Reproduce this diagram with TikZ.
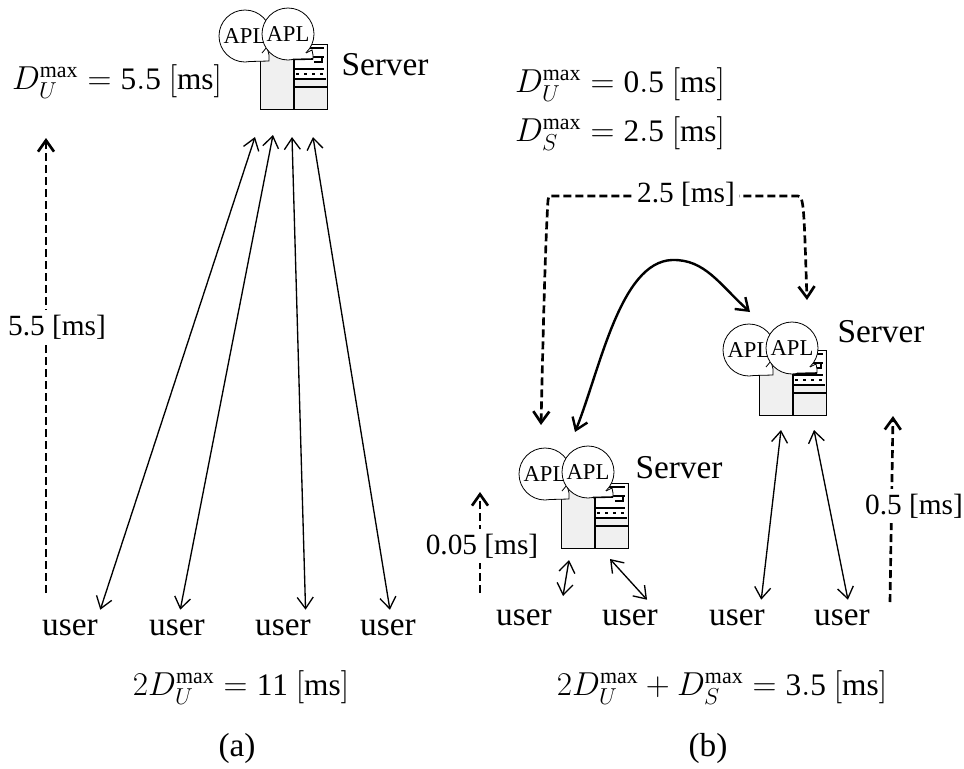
\documentclass[tikz,border=0pt]{standalone}
\usepackage{amsmath,amssymb}
\usepackage{fontspec}
\setmainfont{Liberation Serif}
\usetikzlibrary{arrows.meta,positioning,calc}
\definecolor{boxgray}{HTML}{F0F0F0}
\tikzset{
  >={Straight Barb[length=8.5pt,width=12pt]},
  apl/.style={circle, draw, fill=white, line width=0.6pt, minimum size=39pt, inner sep=0pt, font=\fontsize{17}{17}\selectfont},
  user/.style={minimum width=45pt, minimum height=27pt, inner sep=0pt, font=\fontsize{25}{25}\selectfont},
  big/.style={font=\fontsize{25}{25}\selectfont, inner sep=0pt},
  delay/.style={fill=white, inner xsep=3pt, inner ysep=4pt, font=\fontsize{22}{22}\selectfont},
  formula/.style={font=\fontsize{23.5}{25}\selectfont, inner sep=0pt},
  link/.style={<->, line width=1pt},
  dashlink/.style={->, line width=2pt, dash pattern=on 6pt off 3pt},
  pics/serverbox/.style={code={
    \node[draw, fill=boxgray, line width=1pt, minimum width=50pt, minimum height=48.5pt, inner sep=0pt, anchor=north west] (-box) at (0,0) {};
    \fill[white] (34,1) rectangle (66,35);
    \draw[line width=1pt] (34,0) -- (34,65) (34,43) -- (67,43);
    \draw[line width=1.7pt] (34,4) -- (64,4) (34,13) -- (64,13) (34,25) -- (64,25);
    \draw[line width=0.9pt] (34,35) -- (66,35);
    \draw[line width=2pt, dash pattern=on 2.5pt off 3.5pt] (36,30) -- (66,30);
    \draw[line width=1.7pt] (54,18) -- (62,18) -- (62,13);
  }},
  pics/aplpair/.style={code={
    \node[apl] (-left) at (-15,-8) {APL};
    \fill[white] (7,3) -- (0,9) -- (-10,14) -- (-10,17.5) -- (9,17) -- (9,11) -- cycle;
    \draw[line width=0.6pt] (2,9) -- (7,3) -- (9,11) -- (9,17) -- (-10,17.5);
    \node[apl] (-right) at (28,-10) {APL};
    \fill[white] (46,9) -- (52,6) -- (53,11) -- (53,15) -- (33,15.5) -- (40,5) -- cycle;
    \draw[line width=0.6pt] (46,9) -- (52,6) -- (53,11) -- (53,15);
    \draw[line width=1.2pt] (53,15) -- (33,15.5);
  }},
}

\begin{document}
\begin{tikzpicture}[x=0.75pt, y=-0.75pt]
  \useasboundingbox (0,0) rectangle (964,768);

  % (a)
  \pic (srvA) at (260,44) {serverbox};
  \pic (aplA) at (260,44) {aplpair};
  \node[big] (srvAname) at (385,65) {Server};
  \node[formula] (maxA) at (117,82) {$D_U^{\mathrm{max}}=\mathrm{5.5\ [ms]}$};

  \node[user] (ua1) at (70,628) {user};
  \node[user] (ua2) at (177,628) {user};
  \node[user] (ua3) at (283,628) {user};
  \node[user] (ua4) at (388,628) {user};
  \coordinate (ta1) at (255,137);
  \coordinate (ta2) at (273,135);
  \coordinate (ta3) at (292,137);
  \coordinate (ta4) at (313,137);
  \draw[link] (ua1.north east) -- (ta1);
  \draw[link] (ua2.80) -- (ta2);
  \draw[link] (ua3.39) -- (ta3);
  \draw[link] (ua4.84) -- (ta4);

  \coordinate (da0) at (46,593);
  \coordinate (da1) at (46,138);
  \draw[dashlink] (da0) -- (da1);
  \node[delay] (delayA) at (57,327) {5.5 [ms]};

  \node[formula] (totalA) at (241,688) {$2D_U^{\mathrm{max}}=\mathrm{11\ [ms]}$};
  \node[big] (capA) at (237,748) {(a)};

  % (b)
  \node[formula] (maxB) at (620,85) {$D_U^{\mathrm{max}}=\mathrm{0.5\ [ms]}$};
  \node[formula] (maxC) at (620,134) {$D_S^{\mathrm{max}}=\mathrm{2.5\ [ms]}$};

  \pic (srvB) at (561,483) {serverbox};
  \pic (aplB) at (560,482) {aplpair};
  \pic (srvC) at (759,350) {serverbox};
  \pic (aplC) at (764,358) {aplpair};
  \node[big] (srvBname) at (679,468) {Server};
  \node[big] (srvCname) at (881,332) {Server};

  \node[user] (ub1) at (524,618) {user};
  \node[user] (ub2) at (630,618) {user};
  \node[user] (ub3) at (737,618) {user};
  \node[user] (ub4) at (842,618) {user};
  \coordinate (sb1) at (563,596);
  \coordinate (tb1) at (569,560);
  \coordinate (tb2) at (610,559);
  \coordinate (tb3) at (781,430);
  \coordinate (tb4) at (814,430);
  \draw[link] (sb1) -- (tb1);
  \draw[link] (ub2.47) -- (tb2);
  \draw[link] (ub3.37) -- (tb3);
  \draw[link] (ub4.72) -- (tb4);

  % between the servers
  \coordinate (cb) at (575,432);
  \coordinate (cc) at (750,312);
  \draw[<->, line width=1.8pt] (cb) .. controls (600,370) and (620,262) .. (672,260) .. controls (705,259) and (720,285) .. (cc);

  \coordinate (db) at (541,425);
  \coordinate (dc) at (807,300);
  \draw[dashlink, <->] (db) .. controls (543,340) and (545,250) .. (548,200) -- (549,196) -- (798,196) .. controls (804,196) and (804,210) .. (dc);
  \node[delay] (delayS) at (686,194) {2.5 [ms]};

  \coordinate (dl0) at (480,593);
  \coordinate (dl1) at (480,492);
  \draw[dashlink] (dl0) -- (dl1);
  \node[delay] (delayL) at (482,546) {0.05 [ms]};

  \coordinate (dr0) at (890,602);
  \coordinate (dr1) at (893,416);
  \draw[dashlink] (dr0) -- (dr1);
  \node[delay] (delayR) at (914,506) {0.5 [ms]};

  \node[formula] (totalB) at (722,688) {$2D_U^{\mathrm{max}}+D_S^{\mathrm{max}}=\mathrm{3.5\ [ms]}$};
  \node[big] (capB) at (708,748) {(b)};
\end{tikzpicture}
\end{document}
